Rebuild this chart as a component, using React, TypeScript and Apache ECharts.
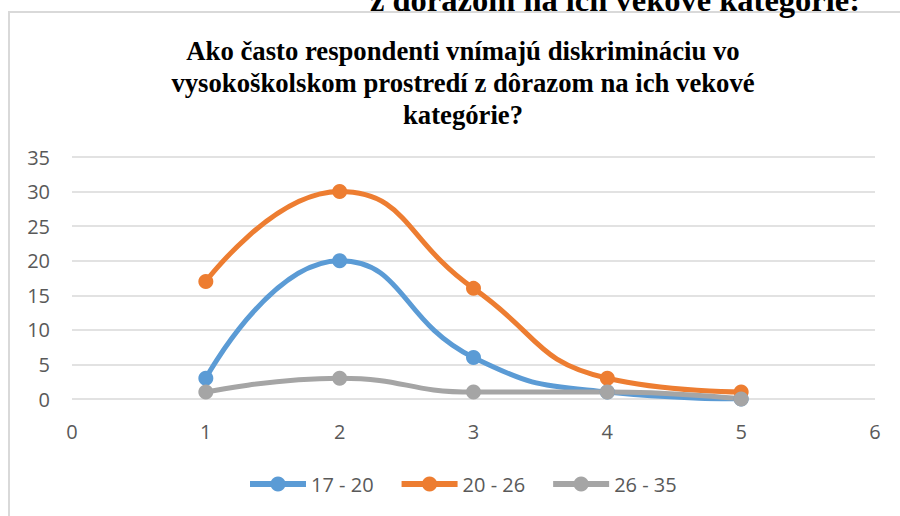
import React, { useEffect, useRef } from "react";
import * as echarts from "echarts";

const xValues = [1, 2, 3, 4, 5];
const series1720 = [3, 20, 6, 1, 0];
const series2026 = [17, 30, 16, 3, 1];
const series2635 = [1, 3, 1, 1, 0];
const seriesNames = ["17 - 20", "20 - 26", "26 - 35"];
const colors = ["#5B9BD5", "#ED7D31", "#A5A5A5"];
const titleText =
  "Ako často respondenti vnímajú diskrimináciu vo\nvysokoškolskom prostredí z dôrazom na ich vekové\nkategórie?";
const croppedText = "z dôrazom na ich vekové kategórie:";

export default function App() {
  const ref = useRef<HTMLDivElement>(null);
  useEffect(() => {
    if (!ref.current) return;
    const chart = echarts.init(ref.current, null, { renderer: "svg" });
    const all = [series1720, series2026, series2635];
    const sansFont = "'Open Sans', sans-serif";
    chart.setOption({
      animation: false,
      backgroundColor: "#ffffff",
      title: {
        text: titleText,
        left: 458,
        textAlign: "center",
        top: 30,
        textStyle: {
          fontFamily: "'Liberation Serif', serif",
          fontWeight: "bold",
          fontSize: 26.7,
          lineHeight: 32,
          color: "#000000",
        },
      },
      graphic: [
        {
          type: "rect",
          shape: { x: 9, y: 12, width: 1000, height: 600 },
          style: { fill: "none", stroke: "#D9D9D9", lineWidth: 2 },
          silent: true,
        },
        {
          type: "text",
          x: 615,
          y: 16,
          style: {
            text: croppedText,
            font: "bold 32.5px 'Liberation Serif', serif",
            fill: "#000000",
            align: "center",
            verticalAlign: "bottom",
          },
          silent: true,
        },
      ],
      legend: {
        data: seriesNames,
        bottom: 17,
        left: 242,
        itemWidth: 56,
        itemHeight: 19,
        itemGap: 25,
        lineStyle: { width: 6 },
        textStyle: { fontFamily: sansFont, fontSize: 20, color: "#595959" },
      },
      grid: { left: 72, right: 25, top: 157, bottom: 117 },
      xAxis: {
        type: "value",
        min: 0,
        max: 6,
        interval: 1,
        axisLine: { show: false },
        axisTick: { show: false },
        splitLine: { show: false },
        axisLabel: {
          margin: 22,
          fontFamily: sansFont,
          fontSize: 20,
          color: "#595959",
        },
      },
      yAxis: {
        type: "value",
        min: 0,
        max: 35,
        interval: 5,
        axisLine: { show: false },
        axisTick: { show: false },
        splitLine: { lineStyle: { color: "#D9D9D9", width: 1.5 } },
        axisLabel: {
          margin: 22,
          fontFamily: sansFont,
          fontSize: 20,
          color: "#595959",
        },
      },
      series: all.map((vals, i) => ({
        name: seriesNames[i],
        type: "line",
        smooth: 0.5,
        data: vals.map((v, j) => [xValues[j], v]),
        symbol: "circle",
        symbolSize: 15,
        lineStyle: { color: colors[i], width: 5 },
        itemStyle: { color: colors[i] },
        emphasis: { disabled: true },
      })),
    });
    return () => chart.dispose();
  }, []);
  return (
    <div
      ref={ref}
      style={{ position: "fixed", left: 0, top: 0, width: 900, height: 516 }}
    />
  );
}
